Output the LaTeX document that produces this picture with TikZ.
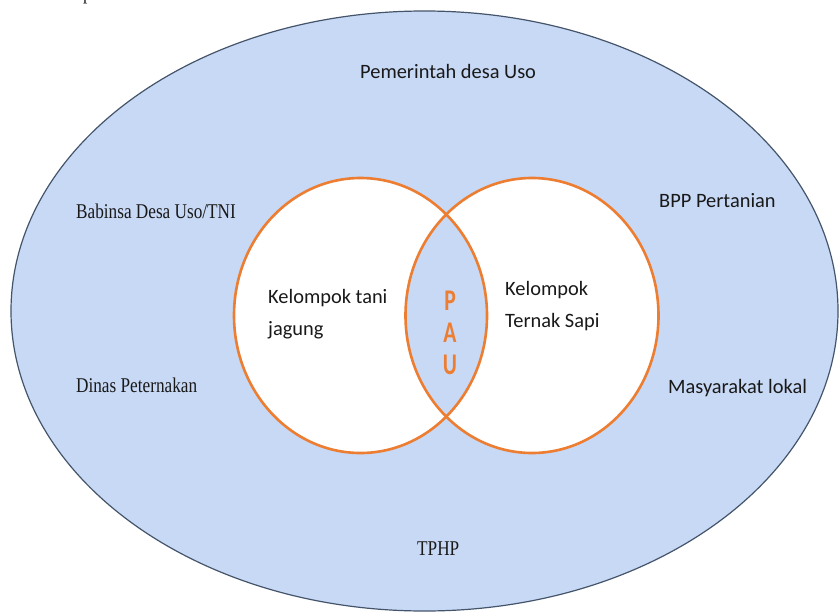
\documentclass[tikz,border=0pt]{standalone}
\usepackage{fontspec}
\setmainfont{Liberation Serif}
\newfontfamily\calib{Carlito}
\definecolor{bgblue}{HTML}{C8D9F5}
\definecolor{edgecol}{HTML}{44546A}
\definecolor{orng}{HTML}{ED7D31}
\begin{document}
\begin{tikzpicture}[x=1pt,y=-1pt,
  sanslbl/.style={inner sep=0pt, anchor=base west, font=\calib\fontsize{20.4}{32}\selectfont, text=black!90},
  seriflbl/.style={inner sep=0pt, anchor=base west, font=\fontsize{21}{25}\selectfont, xscale=0.82, text=black!90},
  venn/.style={draw=orng, line width=2.6pt}]
\useasboundingbox (0,0) rectangle (840,613);
\clip (0,0) rectangle (840,613);
\fill[white] (0,0) rectangle (840,613);
% outer ellipse
\draw[fill=bgblue, draw=edgecol, line width=1.2pt] (424.5,311) ellipse [x radius=413.5, y radius=300];
% circles
\fill[white] (360.5,315.5) ellipse [x radius=126.5, y radius=137.5];
\fill[white] (532,315.5) ellipse [x radius=126.5, y radius=137.5];
\begin{scope}
  \clip (360.5,315.5) ellipse [x radius=126.5, y radius=137.5];
  \fill[bgblue] (532,315.5) ellipse [x radius=126.5, y radius=137.5];
\end{scope}
\draw[venn] (360.5,315.5) ellipse [x radius=126.5, y radius=137.5];
\draw[venn] (532,315.5) ellipse [x radius=126.5, y radius=137.5];
% labels
\node[seriflbl] (ptop) at (83,-1) {p};
\node[sanslbl] (pemdes) at (360,78) {Pemerintah desa Uso};
\node[sanslbl] (bpp) at (659,207) {BPP Pertanian};
\node[sanslbl] (masy) at (668,393) {Masyarakat lokal};
\node[seriflbl] (babinsa) at (76,218) {Babinsa Desa Uso/TNI};
\node[seriflbl] (dinas) at (76,392) {Dinas Peternakan};
\node[seriflbl] (tphp) at (417,555) {TPHP};
\node[sanslbl, align=left] (tani) at (268,335) {Kelompok tani\\jagung};
\node[sanslbl, align=left] (ternak) at (505,327) {Kelompok\\Ternak Sapi};
\node[inner sep=0pt, anchor=base, align=center, text=orng, xscale=0.72,
      font=\calib\bfseries\fontsize{30}{32}\selectfont] (pau) at (450,374) {P\\A\\U};
\end{tikzpicture}
\end{document}
